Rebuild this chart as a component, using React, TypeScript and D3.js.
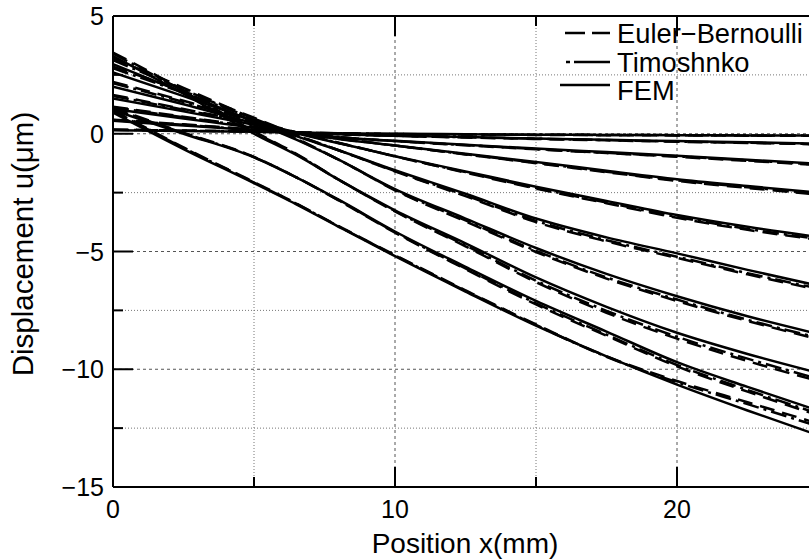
import React from "react";
import * as d3 from "d3";

// x positions (mm) at which the curves were read
const X = [0, 2.5, 5, 6.5, 8, 10, 12.5, 15, 17.5, 20, 22.5, 25];

// FEM (solid)
const FEM = [
  [0.15, 0.12, 0.08, 0.05, 0.02, 0.0, -0.02, -0.04, -0.05, -0.06, -0.07, -0.08],
  [0.55, 0.35, 0.15, 0.05, -0.02, -0.08, -0.14, -0.2, -0.26, -0.31, -0.36, -0.42],
  [1.05, 0.65, 0.25, 0.03, -0.15, -0.3, -0.47, -0.63, -0.78, -0.93, -1.1, -1.28],
  [1.5, 0.95, 0.38, 0.03, -0.22, -0.5, -0.85, -1.2, -1.57, -1.93, -2.22, -2.5],
  [2.0, 1.25, 0.45, 0.02, -0.4, -0.95, -1.6, -2.25, -2.85, -3.45, -3.95, -4.38],
  [2.6, 1.6, 0.55, -0.1, -0.7, -1.55, -2.55, -3.6, -4.4, -5.08, -5.78, -6.45],
  [2.95, 1.75, 0.5, -0.25, -1.1, -2.35, -3.6, -4.85, -5.95, -6.9, -7.75, -8.5],
  [3.3, 1.7, 0.0, -0.9, -1.95, -3.25, -4.65, -6.1, -7.35, -8.45, -9.35, -10.15],
  [1.0, 0.0, -1.0, -1.85, -2.8, -4.15, -5.65, -7.1, -8.4, -9.7, -10.75, -11.75],
  [0.9, -0.65, -2.1, -3.0, -3.95, -5.2, -6.7, -8.15, -9.45, -10.65, -11.75, -12.8],
];

// Euler-Bernoulli (dashed)
const EB = [
  [0.18, 0.14, 0.1, 0.06, 0.02, -0.01, -0.03, -0.05, -0.06, -0.07, -0.08, -0.09],
  [0.6, 0.4, 0.18, 0.06, -0.02, -0.09, -0.16, -0.22, -0.28, -0.34, -0.39, -0.45],
  [1.15, 0.72, 0.3, 0.05, -0.14, -0.31, -0.49, -0.66, -0.82, -0.98, -1.15, -1.33],
  [1.65, 1.05, 0.45, 0.06, -0.2, -0.5, -0.88, -1.25, -1.63, -2.0, -2.3, -2.58],
  [2.2, 1.4, 0.55, 0.06, -0.38, -0.96, -1.65, -2.33, -2.95, -3.57, -4.08, -4.5],
  [2.85, 1.8, 0.68, -0.05, -0.7, -1.6, -2.65, -3.75, -4.57, -5.27, -5.97, -6.62],
  [3.2, 1.95, 0.62, -0.2, -1.1, -2.4, -3.72, -5.02, -6.15, -7.1, -7.95, -8.72],
  [3.45, 1.85, 0.1, -0.85, -1.95, -3.3, -4.78, -6.3, -7.6, -8.7, -9.65, -10.5],
  [1.1, 0.05, -0.98, -1.85, -2.83, -4.2, -5.75, -7.25, -8.58, -9.88, -10.95, -11.95],
  [1.0, -0.58, -2.05, -2.96, -3.92, -5.15, -6.65, -8.1, -9.45, -10.5, -11.4, -12.3],
];

// Timoshenko (dash-dot)
const TIMO = [
  [0.17, 0.13, 0.09, 0.05, 0.02, -0.01, -0.03, -0.04, -0.05, -0.06, -0.07, -0.08],
  [0.58, 0.38, 0.17, 0.05, -0.02, -0.09, -0.15, -0.21, -0.27, -0.33, -0.38, -0.44],
  [1.12, 0.7, 0.28, 0.04, -0.15, -0.31, -0.48, -0.65, -0.81, -0.96, -1.13, -1.31],
  [1.6, 1.02, 0.43, 0.05, -0.21, -0.5, -0.87, -1.23, -1.61, -1.98, -2.27, -2.55],
  [2.15, 1.35, 0.52, 0.05, -0.39, -0.96, -1.63, -2.3, -2.92, -3.53, -4.04, -4.46],
  [2.78, 1.74, 0.64, -0.06, -0.7, -1.58, -2.62, -3.7, -4.52, -5.22, -5.92, -6.57],
  [3.12, 1.88, 0.58, -0.22, -1.1, -2.38, -3.68, -4.97, -6.1, -7.04, -7.9, -8.66],
  [3.4, 1.8, 0.07, -0.87, -1.95, -3.28, -4.74, -6.24, -7.52, -8.62, -9.55, -10.4],
  [1.07, 0.03, -0.99, -1.85, -2.82, -4.18, -5.72, -7.2, -8.53, -9.82, -10.88, -11.88],
  [0.97, -0.6, -2.07, -2.97, -3.93, -5.17, -6.67, -8.12, -9.47, -10.55, -11.48, -12.42],
];

const X_MAJOR = [0, 10, 20];
const X_MINOR = [5, 15, 25];
const Y_MAJOR = [5, 0, -5, -10, -15];
const Y_MINOR = [2.5, -2.5, -7.5, -12.5];
const LEGEND = ["Euler\u2212Bernoulli", "Timoshnko", "FEM"];

const W = 809;
const H = 560;
const L = 113;
const R = 818;
const T = 16;
const B = 487;
const FONT = "'Liberation Sans', Arial, Helvetica, sans-serif";

export default function App() {
  const x = d3.scaleLinear().domain([0, 25]).range([L, R]);
  const y = d3.scaleLinear().domain([-15, 5]).range([B, T]);
  const line = d3
    .line<number>()
    .x((_, i) => x(X[i]))
    .y((d) => y(d))
    .curve(d3.curveMonotoneX);

  const EB_DASH = "15,8";
  const TIMO_DASH = "16,5,3,5";
  const LW = 2.5;

  return (
    <svg
      width={W}
      height={H}
      style={{ position: "absolute", left: 0, top: 0, background: "#fff" }}
      fontFamily={FONT}
    >
      <defs>
        <clipPath id="plot">
          <rect x={L} y={T} width={R - L} height={B - T} />
        </clipPath>
      </defs>
      <rect width={W} height={H} fill="#fff" />
      {/* grid */}
      {X_MINOR.filter((v) => v < 25).map((v) => (
        <line key={"gx" + v} x1={x(v)} x2={x(v)} y1={T} y2={B} stroke="#777" strokeWidth={1} strokeDasharray="1,2" />
      ))}
      {X_MAJOR.filter((v) => v > 0).map((v) => (
        <line key={"gX" + v} x1={x(v)} x2={x(v)} y1={T} y2={B} stroke="#555" strokeWidth={1} strokeDasharray="3,3" />
      ))}
      {Y_MINOR.map((v) => (
        <line key={"gy" + v} x1={L} x2={R} y1={y(v)} y2={y(v)} stroke="#777" strokeWidth={1} strokeDasharray="1,2" />
      ))}
      {Y_MAJOR.filter((v) => v > -15 && v < 5).map((v) => (
        <line key={"gY" + v} x1={L} x2={R} y1={y(v)} y2={y(v)} stroke="#555" strokeWidth={1} strokeDasharray="3,3" />
      ))}
      {/* curves */}
      <g clipPath="url(#plot)" fill="none" stroke="#000" strokeWidth={LW}>
        {EB.map((s, i) => (
          <path key={"eb" + i} d={line(s) || ""} strokeDasharray={EB_DASH} />
        ))}
        {TIMO.map((s, i) => (
          <path key={"ti" + i} d={line(s) || ""} strokeDasharray={TIMO_DASH} />
        ))}
        {FEM.map((s, i) => (
          <path key={"fe" + i} d={line(s) || ""} />
        ))}
      </g>
      {/* axes frame */}
      <g stroke="#000" strokeWidth={2} fill="none">
        <line x1={L} x2={R} y1={B} y2={B} />
        <line x1={L} x2={R} y1={T} y2={T} />
        <line x1={L} x2={L} y1={T} y2={B} />
        {X_MAJOR.map((v) => (
          <g key={"tX" + v}>
            <line x1={x(v)} x2={x(v)} y1={B} y2={B - 20} />
            <line x1={x(v)} x2={x(v)} y1={T} y2={T + 20} />
          </g>
        ))}
        {X_MINOR.map((v) => (
          <g key={"tx" + v}>
            <line x1={x(v)} x2={x(v)} y1={B} y2={B - 10} />
            <line x1={x(v)} x2={x(v)} y1={T} y2={T + 10} />
          </g>
        ))}
        {Y_MAJOR.map((v) => (
          <line key={"tY" + v} x1={L} x2={L + 20} y1={y(v)} y2={y(v)} />
        ))}
        {Y_MINOR.map((v) => (
          <line key={"ty" + v} x1={L} x2={L + 10} y1={y(v)} y2={y(v)} />
        ))}
      </g>
      {/* tick labels */}
      <g fontSize={25} fill="#000">
        {X_MAJOR.map((v) => (
          <text key={"lx" + v} x={x(v)} y={518} textAnchor="middle">
            {String(v)}
          </text>
        ))}
        {Y_MAJOR.map((v) => (
          <text key={"ly" + v} x={104} y={y(v) + 9} textAnchor="end">
            {v < 0 ? "\u2212" + Math.abs(v) : String(v)}
          </text>
        ))}
      </g>
      {/* axis titles */}
      <text x={465} y={553} textAnchor="middle" fontSize={28}>
        Position x(mm)
      </text>
      <text
        transform={`translate(33,244) rotate(-90)`}
        textAnchor="middle"
        fontSize={29.5}
      >
        Displacement u(μm)
      </text>
      {/* legend */}
      <g stroke="#000" strokeWidth={2.3} fill="none">
        <line x1={565} x2={610} y1={33} y2={33} strokeDasharray="20,7" />
        <line x1={566} x2={610} y1={62} y2={62} strokeDasharray="4,4,40" />
        <line x1={560} x2={610} y1={85} y2={85} />
      </g>
      <g fontSize={27.3} fill="#000">
        {LEGEND.map((t, i) => (
          <text key={t} x={617} y={43 + i * 28.5}>
            {t}
          </text>
        ))}
      </g>
    </svg>
  );
}
